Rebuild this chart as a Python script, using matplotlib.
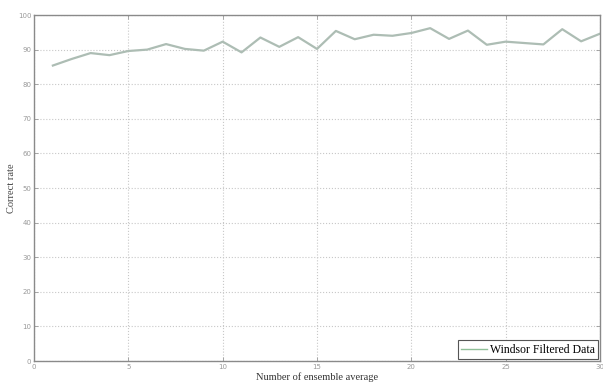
import matplotlib
matplotlib.use("Agg")
import matplotlib.pyplot as plt

# Correct rate vs. number of ensemble average
ensemble = list(range(1, 31))
correct_rate = [85.4, 87.3, 89.0, 88.4, 89.6, 90.0, 91.6, 90.2, 89.7, 92.3,
                89.2, 93.5, 90.8, 93.6, 90.2, 95.4, 93.0, 94.3, 94.0, 94.8,
                96.2, 93.1, 95.5, 91.4, 92.3, 91.9, 91.5, 95.9, 92.4, 94.6]
x_ticks = [0, 5, 10, 15, 20, 25, 30]
y_ticks = list(range(0, 101, 10))

fig = plt.figure(figsize=(6.03, 3.85), dpi=100)
ax = fig.add_axes([0.0564, 0.0623, 0.9386, 0.8987])

ax.plot(ensemble, correct_rate, color="#adbdb4", linewidth=1.6,
        label="Windsor Filtered Data")

ax.set_xlim(0, 30)
ax.set_ylim(0, 100)
ax.set_xticks(x_ticks)
ax.set_yticks(y_ticks)
ax.grid(True, linestyle=":", color="#c8c8c8", linewidth=0.8)
ax.tick_params(direction="in", length=3, width=0.6, colors="#999999",
               labelsize=5, top=True, right=True, pad=2)
for s in ax.spines.values():
    s.set_color("#8a8a8a")
    s.set_linewidth(1.0)

ax.set_xlabel("Number of ensemble average", family="Liberation Serif",
              fontsize=7.5, color="#333333", labelpad=2)
ax.set_ylabel("Correct rate", family="Liberation Serif",
              fontsize=7.5, color="#444444", labelpad=1)

leg = ax.legend(loc="lower right", prop={"family": "Liberation Serif", "size": 8.5},
                fancybox=False, framealpha=1, borderpad=0.3, handlelength=2.2,
                handletextpad=0.2, borderaxespad=0.15)
leg.get_frame().set_edgecolor("#555555")
leg.get_frame().set_linewidth(0.8)
leg.get_lines()[0].set_color("#8fbf98")
leg.get_lines()[0].set_linewidth(1.0)

fig.savefig("out.png", dpi=100)
